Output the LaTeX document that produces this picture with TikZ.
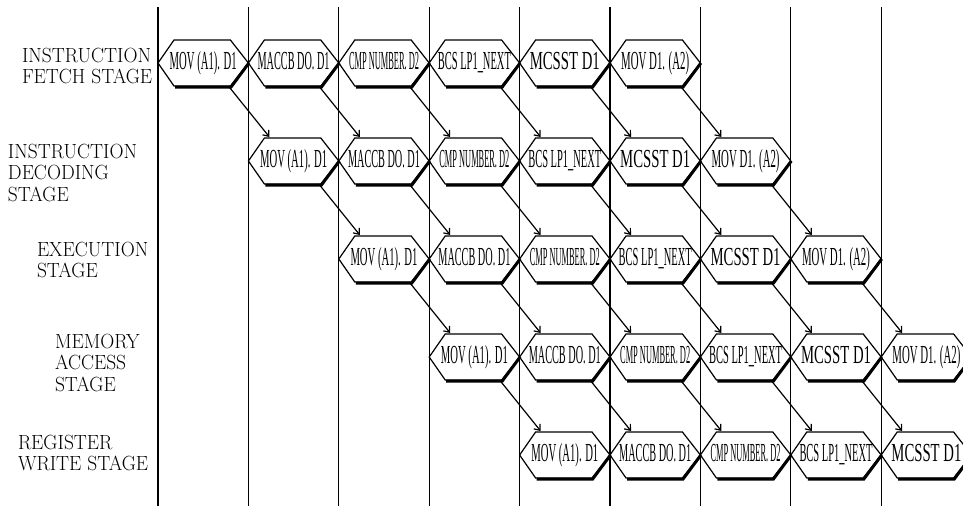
\documentclass[tikz,border=0pt]{standalone}
\usepackage{fontspec}
\usepackage{graphicx}
\newfontfamily\hexfont{Liberation Serif}
\usetikzlibrary{calc,arrows.meta}
\newcommand\hexlabel[2]{\resizebox{#1pt}{\height}{\vphantom{(}#2}}
\newcommand\stagetext[1]{\scalebox{0.95}[1]{\begin{tabular}{@{}l@{}}#1\end{tabular}}}
\begin{document}
\begin{tikzpicture}[x=1pt,y=-1pt,
  cell/.style={minimum width=90.4pt, minimum height=46pt, inner sep=0pt, outer sep=0pt, font=\hexfont\fontsize{26}{26}\selectfont},
  hexline/.style={draw=black, line width=1.2pt, line join=miter},
  shadowline/.style={draw=black, line width=3pt, line join=miter},
  vline/.style={draw=black, line width=1.3pt},
  flow/.style={draw=black, line width=1.2pt, -{Straight Barb[length=5pt,width=8pt]}},
  stagelbl/.style={inner sep=0pt, outer sep=0pt, anchor=north west, font=\fontsize{20.5}{21.5}\selectfont}]
\useasboundingbox (0,0) rectangle (963,506);
\clip (0,0) rectangle (963,506);
% vertical time lines
\foreach \i in {0,...,8} {
  \coordinate (vt\i) at ({158+90.4*\i}, 7);
  \coordinate (vb\i) at ({158+90.4*\i}, 506);
  \draw[vline] (vt\i) -- (vb\i);
}
% stage labels
\node[stagelbl] (lfetch) at (22, 47) {\stagetext{INSTRUCTION\\FETCH STAGE}};
\node[stagelbl] (ldec) at (8, 143) {\stagetext{INSTRUCTION\\DECODING\\STAGE}};
\node[stagelbl] (lexe) at (37, 241) {\stagetext{EXECUTION\\STAGE}};
\node[stagelbl] (lmem) at (55, 333) {\stagetext{MEMORY\\ACCESS\\STAGE}};
\node[stagelbl] (lreg) at (18, 434) {\stagetext{REGISTER\\WRITE STAGE}};
% instruction hexagons
\foreach \k/\w/\t in {0/67/{MOV (A1). D1},1/72/{MACCB DO. D1},2/70/{CMP NUMBER. D2},3/73/{BCS LP1\_NEXT},4/70/{MCSST D1},5/68/{MOV D1. (A2)}} {
  \foreach \r in {0,...,4} {
    \pgfmathtruncatemacro\c{\r+\k}
    \ifnum\c<9
      \node[cell] (h-\r-\c) at ({158+90.4*(\c+0.5)}, {63+98*\r}) {\hexlabel{\w}{\t}};
      \draw[shadowline] ($(h-\r-\c.south west)+(17,1.2)$) -- ($(h-\r-\c.south east)+(-17.5,1.2)$) -- ($(h-\r-\c.east)+(0.5,0)$);
      \draw[hexline] (h-\r-\c.west) -- ($(h-\r-\c.north west)+(16,0)$) -- ($(h-\r-\c.north east)+(-18,0)$) -- (h-\r-\c.east) -- ($(h-\r-\c.south east)+(-18,0)$) -- ($(h-\r-\c.south west)+(16,0)$) -- cycle;
    \fi
  }
}
% flow arrows between stages
\foreach \k in {0,...,5} {
  \foreach \r in {0,...,3} {
    \pgfmathtruncatemacro\c{\r+\k}
    \pgfmathtruncatemacro\rn{\r+1}
    \pgfmathtruncatemacro\cn{\c+1}
    \ifnum\cn<9
      \draw[flow] ($(h-\r-\c.south east)+(-20,0)$) -- ($(h-\rn-\cn.north west)+(21,-1)$);
    \fi
  }
}
\end{tikzpicture}
\end{document}
